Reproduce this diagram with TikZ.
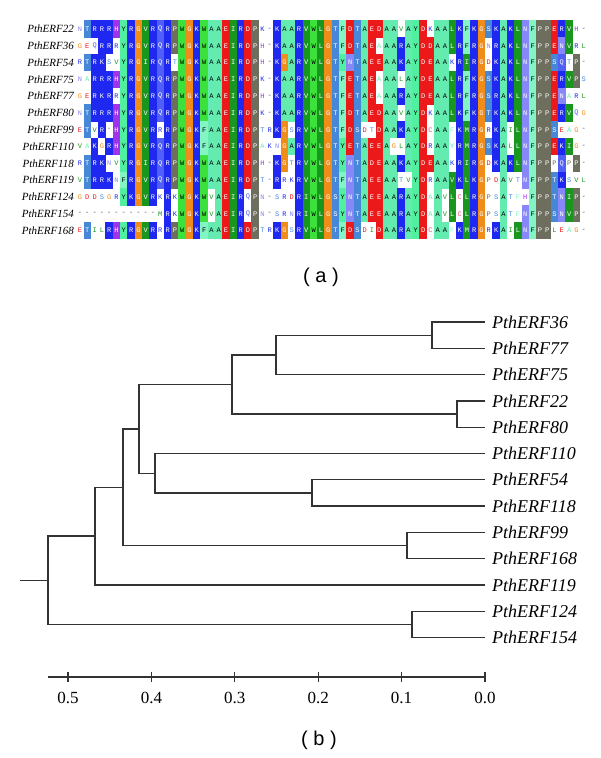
\documentclass[tikz,border=0pt]{standalone}
\usepackage{fontspec}
\setmainfont{Liberation Serif}
\setsansfont{Liberation Sans}
\setmonofont{Liberation Mono}
\usetikzlibrary{positioning}

% residue colours
\definecolor{resR}{RGB}{30,40,240}   \colorlet{resK}{resR}
\definecolor{resH}{RGB}{160,50,235}
\definecolor{resY}{RGB}{80,240,160}
\definecolor{resF}{RGB}{130,245,195}
\definecolor{resW}{RGB}{60,225,60}
\definecolor{resA}{RGB}{100,235,175}
\definecolor{resG}{RGB}{240,140,25}
\definecolor{resV}{RGB}{25,150,30}   \colorlet{resI}{resV} \colorlet{resL}{resV} \colorlet{resM}{resV}
\definecolor{resE}{RGB}{235,25,25}   \colorlet{resD}{resE}
\definecolor{resP}{RGB}{110,110,95}
\definecolor{resT}{RGB}{70,135,215}  \colorlet{resS}{resT}
\definecolor{resN}{RGB}{135,135,250}
\definecolor{resQ}{RGB}{80,95,245}
\definecolor{resC}{RGB}{230,90,120}
% letters on shaded cells
\colorlet{txtR}{white} \colorlet{txtK}{white} \colorlet{txtH}{white} \colorlet{txtG}{white}
\colorlet{txtV}{white} \colorlet{txtI}{white} \colorlet{txtL}{white} \colorlet{txtM}{white}
\colorlet{txtE}{white} \colorlet{txtD}{white} \colorlet{txtP}{white} \colorlet{txtT}{white}
\colorlet{txtS}{white} \colorlet{txtN}{white} \colorlet{txtQ}{white} \colorlet{txtC}{white}
\colorlet{txtA}{black} \colorlet{txtY}{black} \colorlet{txtF}{black} \colorlet{txtW}{black}

% one cell: row, column, residue, shading (0 plain, 1 shaded, 2 gap)
\newcommand\alncell[4]{%
  \node[cell, cell#4=#3] (c-#1-#2) at ({80+7.3*(#2-1)},{29+16.8*(#1-1)}) {#3};}

\ExplSyntaxOn
\seq_new:N \g_aln_rows_seq
\intarray_new:Nn \g_aln_cnt_intarray { 12 }
\tl_new:N \l_aln_col_tl
\tl_new:N \l_aln_row_tl
\tl_new:N \l_aln_ch_tl
\tl_new:N \l_aln_grp_tl
\tl_new:N \l_aln_flag_tl
\str_new:N \l_aln_seq_str
\NewDocumentCommand \alnrow { m } { \seq_gput_right:Nn \g_aln_rows_seq { #1 } }
\cs_new_protected:Npn \aln_get:
  {
    \str_set:Nx \l_aln_seq_str { \seq_item:Nn \g_aln_rows_seq { \l_aln_row_tl } }
    \tl_set:Nx \l_aln_ch_tl { \str_item:Nn \l_aln_seq_str { \l_aln_col_tl } }
    \tl_set:Nx \l_aln_grp_tl
      {
        \str_case_e:nnF { \l_aln_ch_tl }
          {
            { R } { 1 } { K } { 1 } { D } { 2 } { E } { 2 }
            { S } { 3 } { T } { 3 } { N } { 4 } { Q } { 4 }
            { V } { 5 } { I } { 5 } { L } { 5 } { M } { 5 }
            { F } { 6 } { Y } { 6 } { W } { 6 }
            { A } { 7 } { G } { 8 } { P } { 9 } { H } { 10 } { C } { 11 }
          }
          { 12 }
      }
  }
\cs_new_protected:Npn \aln_draw:
  {
    \int_step_variable:nnNn { 1 } { 70 } \l_aln_col_tl
      {
        \intarray_gzero:N \g_aln_cnt_intarray
        \int_step_variable:nnNn { 1 } { \seq_count:N \g_aln_rows_seq } \l_aln_row_tl
          {
            \aln_get:
            \intarray_gset:Nnn \g_aln_cnt_intarray { \l_aln_grp_tl }
              { \intarray_item:Nn \g_aln_cnt_intarray { \l_aln_grp_tl } + 1 }
          }
        \int_step_variable:nnNn { 1 } { \seq_count:N \g_aln_rows_seq } \l_aln_row_tl
          {
            \aln_get:
            \tl_set:Nn \l_aln_flag_tl { 0 }
            \int_compare:nNnT
              { \intarray_item:Nn \g_aln_cnt_intarray { \l_aln_grp_tl } } > { 4 }
              { \tl_set:Nn \l_aln_flag_tl { 1 } }
            \int_compare:nNnT { \l_aln_grp_tl } = { 12 }
              { \tl_set:Nn \l_aln_flag_tl { 2 } }
            \use:x
              {
                \exp_not:N \alncell
                  { \l_aln_row_tl } { \l_aln_col_tl } { \l_aln_ch_tl } { \l_aln_flag_tl }
              }
          }
      }
  }
\NewDocumentCommand \drawalignment { } { \aln_draw: }
\ExplSyntaxOff

% ERF domain, one line per gene
\alnrow{NTRRRHYRGVRQRPWGKWAAEIRDPK-KAARVWLGTFDTAEDAAVAYDKAALKFKGSKAKLNFPPERVH-}
\alnrow{GEQRRRYRGVRQRPWGKWAAEIRDPH-KAARVWLGTFDTAEAAARAYDDAALRFRGNRAKLNFPPENVRL}
\alnrow{RTRKSVYRGIRQRTWGKWAAEIRDPH-KGARVWLGTYNTAEEAAKAYDEAAKRIRGDKAKLNFPPSQTP-}
\alnrow{NARRRHYRGVRQRPWGKWAAEIRDPK-KAARVWLGTFETAEAAALAYDEAALRFKGSKAKLNFPPERVPS}
\alnrow{GERKRRYRGVRQRPWGKWAAEIRDPH-KAARVWLGTFETAEAAARAYDEAALRFRGSRAKLNFPPENARL}
\alnrow{NTRRRHYRGVRQRPWGKWAAEIRDPK-KAARVWLGTFDTAEDAAVAYDKAALKFKGTKAKLNFPPERVQG}
\alnrow{ETVR-HYRGVRRRPWGKFAAEIRDPTRKGSRVWLGTFDSDTDAAKAYDCAAFKMRGRKAILNFPPSEAG-}
\alnrow{VAKGRHYRGVRQRPWGKFAAEIRDPAKNGARVWLGTYETAEEAGLAYDRAAYRMRGSKALLNFPPEKIG-}
\alnrow{RTRKNVYRGIRQRPWGKWAAEIRDPH-KGTRVWLGTYNTADEAAKAYDEAAKRIRGDKAKLNFPPPQPP-}
\alnrow{VTRRKNFRGVRQRPWGKWAAEIRDPT-RRKRVWLGTFNTAEEAATVYDRAAVKLKGPDAVTNFPPTKSVL}
\alnrow{GDDSGRYKGVRKRKWGKWVAEIRQPN-SRDRIWLGSYNTAEEAARAYDAAVLCLRGPSATFHFPPTNIP-}
\alnrow{-----------MRKWGKWVAEIRQPN-SRNRIWLGSYNTAEEAARAYDAAVLCLRGPSATFNFPPSNVP-}
\alnrow{ETILRHYRGVRRRPWGKFAAEIRDPTRKGSRVWLGTFDSDIDAARAYDCAAFKMRGRKAILNFPPLEAG-}

\begin{document}
\begin{tikzpicture}[x=1pt, y=-1pt,
    seqname/.style={anchor=east, inner sep=0pt, font=\fontsize{11}{13}\selectfont\itshape},
    cell/.style={inner sep=0pt, minimum width=7.6, minimum height=17.1,
      font=\fontsize{7}{8}\selectfont\ttfamily},
    cell0/.style={text=res#1},
    cell1/.style={fill=res#1, text=txt#1},
    cell2/.style={text=black!70},
    leaf/.style={anchor=west, inner sep=0pt, inner xsep=7pt, font=\fontsize{18}{20}\selectfont\itshape},
    branch/.style={line width=1.3pt, black!80},
    scalelabel/.style={font=\fontsize{17}{19}\selectfont},
    panel/.style={font=\fontsize{20}{22}\selectfont\sffamily}
]
\useasboundingbox (0,0) rectangle (600,758);

% (a) alignment
\foreach \nm [count=\i from 0] in {22,36,54,75,77,80,99,110,118,119,124,154,168}
  \node[seqname] (s\nm) at (74,29+16.8*\i) {PthERF\nm};
\drawalignment
\node[panel] (pa) at (321,277) {( a )};

% (b) tree, leaves
\node[leaf] (l36)  at (485,322)   {PthERF36};
\node[leaf] (l77)  at (485,348.3) {PthERF77};
\node[leaf] (l75)  at (485,374.6) {PthERF75};
\node[leaf] (l22)  at (485,400.9) {PthERF22};
\node[leaf] (l80)  at (485,427.2) {PthERF80};
\node[leaf] (l110) at (485,453.5) {PthERF110};
\node[leaf] (l54)  at (485,479.8) {PthERF54};
\node[leaf] (l118) at (485,506.1) {PthERF118};
\node[leaf] (l99)  at (485,532.4) {PthERF99};
\node[leaf] (l168) at (485,558.7) {PthERF168};
\node[leaf] (l119) at (485,585)   {PthERF119};
\node[leaf] (l124) at (485,611.3) {PthERF124};
\node[leaf] (l154) at (485,637.6) {PthERF154};

% inner nodes
\coordinate (k3677)   at (432,335.15);
\coordinate (k75)     at (276,354.9);
\coordinate (k2280)   at (457,414.05);
\coordinate (kup)     at (232,384.5);
\coordinate (k54118)  at (312,492.95);
\coordinate (k110)    at (155,473.2);
\coordinate (kmid)    at (139,428.85);
\coordinate (k99168)  at (407,545.55);
\coordinate (k99)     at (123,487.2);
\coordinate (k119)    at (95,536.1);
\coordinate (k124154) at (412,624.45);
\coordinate (root)    at (48,580.3);
\coordinate (stub)    at (20,580.3);

\draw[branch] (l36.west) -| (k3677) |- (l77.west);
\draw[branch] (k3677) -| (k75) |- (l75.west);
\draw[branch] (l22.west) -| (k2280) |- (l80.west);
\draw[branch] (k75) -| (kup) |- (k2280);
\draw[branch] (l54.west) -| (k54118) |- (l118.west);
\draw[branch] (l110.west) -| (k110) |- (k54118);
\draw[branch] (kup) -| (kmid) |- (k110);
\draw[branch] (l99.west) -| (k99168) |- (l168.west);
\draw[branch] (kmid) -| (k99) |- (k99168);
\draw[branch] (k99) -| (k119) |- (l119.west);
\draw[branch] (l124.west) -| (k124154) |- (l154.west);
\draw[branch] (k119) -| (root) |- (k124154);
\draw[branch] (stub) -- (root);

% scale
\coordinate (ax0) at (48,677);
\coordinate (ax1) at (485,677);
\draw[branch] (ax0) -- (ax1);
\foreach \v/\xx in {5/68,4/151.4,3/234.8,2/318.2,1/401.6,0/485} {
  \draw[branch] (\xx,672) -- (\xx,682);
  \node[scalelabel] (t\v) at (\xx,698) {0.\v};
}
\node[panel] (pb) at (319,740) {( b )};
\end{tikzpicture}
\end{document}
